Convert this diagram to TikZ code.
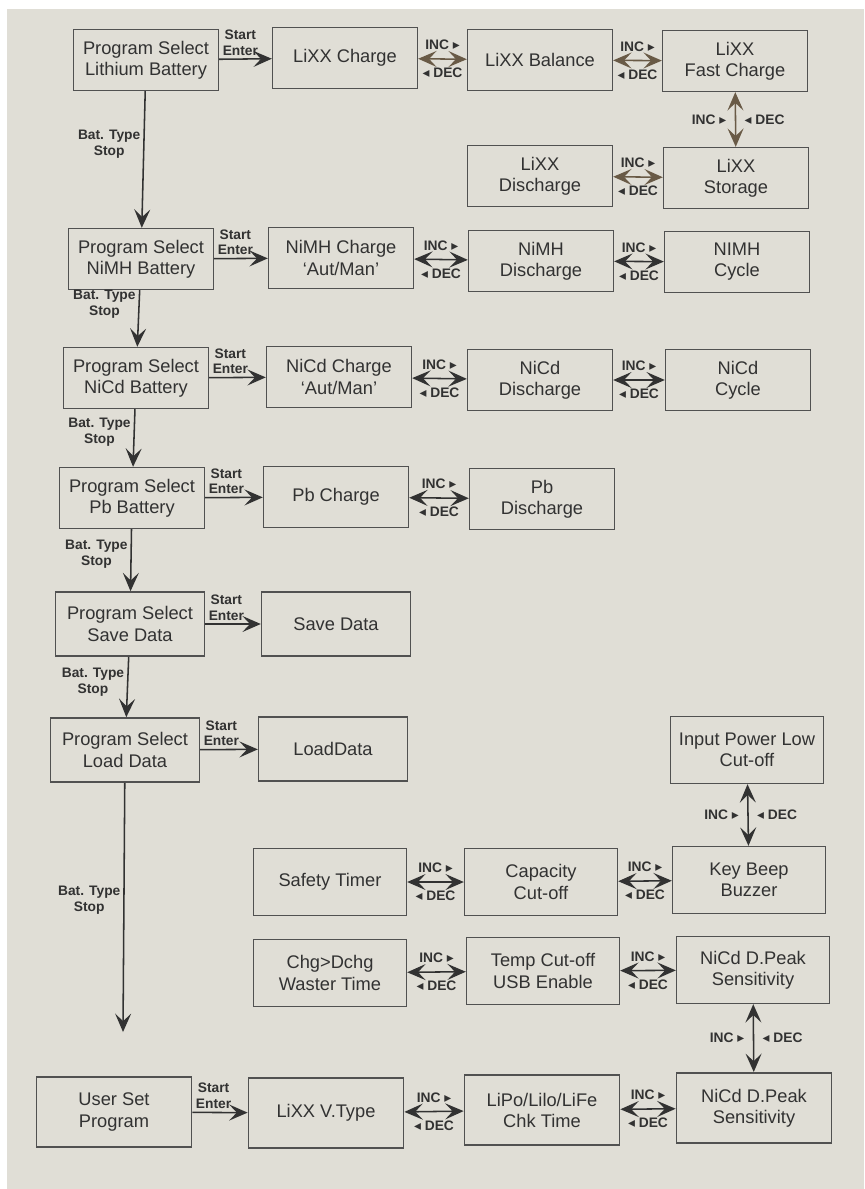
\documentclass[tikz,border=0pt]{standalone}
\usepackage{fontspec}
\setmainfont{Liberation Sans}
\newfontfamily\symfont{DejaVu Sans}
\usetikzlibrary{arrows.meta}
\definecolor{paper}{RGB}{224,222,214}
\definecolor{ink}{RGB}{50,50,50}
\definecolor{brn}{RGB}{105,90,70}
\newcommand{\incr}{INC {\symfont ▸}}
\newcommand{\decr}{{\symfont ◂} DEC}

\begin{document}
\begin{tikzpicture}[x=0.025cm,y=-0.025cm,>={Stealth[length=4.6mm,width=4mm,inset=1.9mm]}]
    \tikzstyle{every node}=[font=\fontsize{13}{15}\selectfont,text=ink,align=center];
    \tikzstyle{blk}=[draw=ink!85,line width=1.1pt,inner sep=0pt,minimum width=3.62cm,minimum height=1.52cm];
    \tikzstyle{blkm}=[blk,minimum width=3.72cm,minimum height=1.6cm];
    \tikzstyle{blkl}=[blk,minimum width=3.82cm,minimum height=1.67cm];
    \tikzstyle{blkb}=[blk,minimum width=3.88cm,minimum height=1.76cm];
    \tikzstyle{lnk}=[draw=ink,line width=1.1pt];
    \tikzstyle{tag}=[font=\bfseries\fontsize{9.8}{11.3}\selectfont,inner sep=2pt];
    \tikzstyle{up}=[tag,above=4pt];
    \tikzstyle{dn}=[tag,below=4pt];

    \useasboundingbox (0,0) rectangle (864,1189);
    \fill[white] (0,0) rectangle (864,1189);
    \fill[paper] (7,9) rectangle (864,1189);

    % program select column
    \node[blk] (p1) at (146,60) {Program Select\\Lithium Battery};
    \node[blk] (p2) at (141,259) {Program Select\\NiMH Battery};
    \node[blk] (p3) at (136,378) {Program Select\\NiCd Battery};
    \node[blk] (p4) at (132,498) {Program Select\\Pb Battery};
    \node[blkm] (p5) at (130,624) {Program Select\\Save Data};
    \node[blkm] (p6) at (125,750) {Program Select\\Load Data};
    \node[blkb] (u0) at (114,1112) {User Set\\Program};
    \coordinate (e7) at (123,1032);

    % lithium
    \node[blk] (c1) at (345,58) {LiXX Charge};
    \node[blk] (c2) at (540,60) {LiXX Balance};
    \node[blk] (c3) at (735,61) {LiXX\\Fast Charge};
    \node[blk] (c4) at (736,178) {LiXX\\Storage};
    \node[blk] (c5) at (540,176) {LiXX\\Discharge};

    % nimh, nicd, pb
    \node[blk] (m1) at (341,258) {NiMH Charge\\`Aut/Man'};
    \node[blk] (m2) at (541,261) {NiMH\\Discharge};
    \node[blk] (m3) at (737,262) {NIMH\\Cycle};
    \node[blk] (d1) at (339,377) {NiCd Charge\\`Aut/Man'};
    \node[blk] (d2) at (540,380) {NiCd\\Discharge};
    \node[blk] (d3) at (738,380) {NiCd\\Cycle};
    \node[blk] (b1) at (336,497) {Pb Charge};
    \node[blk] (b2) at (542,499) {Pb\\Discharge};

    % data
    \node[blkm] (s1) at (336,624) {Save Data};
    \node[blkm] (o1) at (333,749) {LoadData};

    % user set
    \node[blkl] (ip) at (747,750) {Input Power Low\\Cut-off};
    \node[blkl] (sf) at (330,882) {Safety Timer};
    \node[blkl] (cp) at (541,882) {Capacity\\Cut-off};
    \node[blkl] (kb) at (749,880) {Key Beep\\Buzzer};
    \node[blkl] (cd) at (330,973) {Chg>Dchg\\Waster Time};
    \node[blkl] (tc) at (543,971) {Temp Cut-off\\USB Enable};
    \node[blkl] (pk) at (753,970) {NiCd D.Peak\\Sensitivity};
    \node[blkb] (v1) at (326,1113) {LiXX V.Type};
    \node[blkb] (v2) at (542,1110) {LiPo/Lilo/LiFe\\Chk Time};
    \node[blkb] (v3) at (754,1108) {NiCd D.Peak\\Sensitivity};

    % bat. type
    \draw[lnk,->] (p1) -- node[tag,left,pos=0.39] {Bat. Type\\Stop} (p2);
    \draw[lnk,->] (p2) -- node[tag,left,pos=0.25] {Bat. Type\\Stop} (p3);
    \draw[lnk,->] (p3) -- node[tag,left,pos=0.4] {Bat. Type\\Stop} (p4);
    \draw[lnk,->] (p4) -- node[tag,left,pos=0.4] {Bat. Type\\Stop} (p5);
    \draw[lnk,->] (p5) -- node[tag,left,pos=0.42] {Bat. Type\\Stop} (p6);
    \draw[lnk,->] (p6) -- node[tag,left,pos=0.47] {Bat. Type\\Stop} (e7);

    % start enter
    \draw[lnk,->] (p1) -- node[tag,pos=0,anchor=south west] {Start\\Enter} (c1);
    \draw[lnk,->] (p2) -- node[tag,pos=0,anchor=south west] {Start\\Enter} (m1);
    \draw[lnk,->] (p3) -- node[tag,pos=0,anchor=south west] {Start\\Enter} (d1);
    \draw[lnk,->] (p4) -- node[tag,pos=0,anchor=south west] {Start\\Enter} (b1);
    \draw[lnk,->] (p5) -- node[tag,pos=0,anchor=south west] {Start\\Enter} (s1);
    \draw[lnk,->] (p6) -- node[tag,pos=0,anchor=south west] {Start\\Enter} (o1);
    \draw[lnk,->] (u0) -- node[tag,pos=0,anchor=south west] {Start\\Enter} (v1);

    % inc / dec
    \draw[lnk,draw=brn,<->] (c1) -- node[up] {\incr} node[dn] {\decr} (c2);
    \draw[lnk,draw=brn,<->] (c2) -- node[up] {\incr} node[dn] {\decr} (c3);
    \draw[lnk,draw=brn,<->] (c3) -- node[tag,left=4pt] {\incr} node[tag,right=4pt] {\decr} (c4);
    \draw[lnk,draw=brn,<->] (c5) -- node[up] {\incr} node[dn] {\decr} (c4);
    \draw[lnk,<->] (m1) -- node[up] {\incr} node[dn] {\decr} (m2);
    \draw[lnk,<->] (m2) -- node[up] {\incr} node[dn] {\decr} (m3);
    \draw[lnk,<->] (d1) -- node[up] {\incr} node[dn] {\decr} (d2);
    \draw[lnk,<->] (d2) -- node[up] {\incr} node[dn] {\decr} (d3);
    \draw[lnk,<->] (b1) -- node[up] {\incr} node[dn] {\decr} (b2);
    \draw[lnk,<->] (ip) -- node[tag,left=4pt] {\incr} node[tag,right=4pt] {\decr} (kb);
    \draw[lnk,<->] (sf) -- node[up] {\incr} node[dn] {\decr} (cp);
    \draw[lnk,<->] (cp) -- node[up] {\incr} node[dn] {\decr} (kb);
    \draw[lnk,<->] (cd) -- node[up] {\incr} node[dn] {\decr} (tc);
    \draw[lnk,<->] (tc) -- node[up] {\incr} node[dn] {\decr} (pk);
    \draw[lnk,<->] (pk) -- node[tag,left=4pt] {\incr} node[tag,right=4pt] {\decr} (v3);
    \draw[lnk,<->] (v1) -- node[up] {\incr} node[dn] {\decr} (v2);
    \draw[lnk,<->] (v2) -- node[up] {\incr} node[dn] {\decr} (v3);

\end{tikzpicture}
\end{document}
